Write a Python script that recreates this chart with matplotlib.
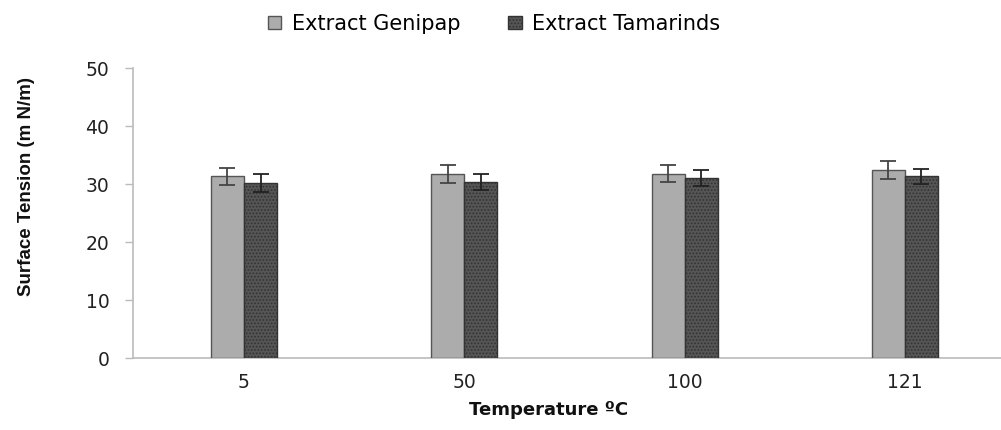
import matplotlib
matplotlib.use("Agg")
import matplotlib.pyplot as plt
import numpy as np

plt.rcParams['font.family'] = ['DejaVu Sans']
plt.rcParams['hatch.linewidth'] = 0.8

categories = ["5", "50", "100", "121"]
genipap = [31.3, 31.7, 31.8, 32.4]
genipap_err = [1.5, 1.5, 1.5, 1.6]
tamarinds = [30.2, 30.4, 31.0, 31.3]
tamarinds_err = [1.5, 1.4, 1.4, 1.3]
yticks = [0, 10, 20, 30, 40, 50]

fig = plt.figure(figsize=(10.01, 4.30), dpi=100)
ax = fig.add_axes([133/1001, 72/430, 1 - 133/1001, 290/430])

x = np.arange(len(categories))
w = 0.15
ax.bar(x - w/2, genipap, w, color='#acacac', edgecolor='#555555', linewidth=1.0,
       yerr=genipap_err, capsize=5.5, error_kw=dict(ecolor='#444444', elinewidth=1.3, capthick=1.3),
       label='Extract Genipap', zorder=3)
ax.bar(x + w/2, tamarinds, w, color='#555555', edgecolor='#333333', linewidth=1.0, hatch='.....',
       yerr=tamarinds_err, capsize=5.5, error_kw=dict(ecolor='#222222', elinewidth=1.3, capthick=1.3),
       label='Extract Tamarinds', zorder=3)

ax.set_xlim((133 - 244) / 220.3, (1001 - 244) / 220.3)
ax.set_ylim(0, 50)
ax.set_yticks(yticks)
ax.set_xticks(x)
ax.set_xticklabels(categories)
ax.tick_params(axis='x', length=0, pad=11, labelsize=13.5, colors='#222222')
ax.tick_params(axis='y', length=6, width=1, color='#bbbbbb', pad=11, labelsize=13.5, colors='#222222')
for s in ['top', 'right']:
    ax.spines[s].set_visible(False)
ax.spines['left'].set_color('#bbbbbb')
ax.spines['bottom'].set_color('#bbbbbb')
ax.spines['left'].set_linewidth(1.2)
ax.spines['bottom'].set_linewidth(1.2)

fig.text(27/1001, 1 - 187/430, 'Surface Tension (m N/m)', rotation=90, ha='center', va='center',
         fontsize=13.5, fontweight='bold', family=['Liberation Sans', 'DejaVu Sans'], color='#111111')
fig.text(549/1001, 1 - 410/430, 'Temperature ºC', ha='center', va='center',
         fontsize=13, fontweight='bold', color='#111111')

fig.legend(loc='center', bbox_to_anchor=(494/1001, 1 - 24/430), ncol=2, frameon=False,
           fontsize=15, handlelength=0.65, handleheight=0.55, columnspacing=2.3, handletextpad=0.5)

fig.savefig('out.png', dpi=100)
